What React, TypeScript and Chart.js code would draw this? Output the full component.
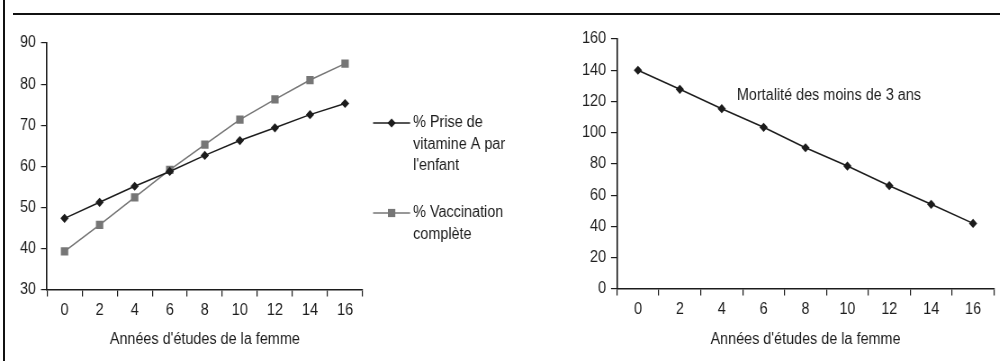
import { useEffect, useRef } from "react";
import { Chart, registerables } from "chart.js";

Chart.register(...registerables);

// Years of schooling of the woman (category axis)
const years = ["0", "2", "4", "6", "8", "10", "12", "14", "16"];

// Left panel: child vitamin A intake and full vaccination (%)
const vitaminA = [47.4, 51.3, 55.2, 58.8, 62.7, 66.3, 69.4, 72.6, 75.3];
const vaccination = [39.4, 45.8, 52.5, 59.2, 65.3, 71.4, 76.3, 81.0, 85.0];

// Right panel: under-3 mortality
const mortality = [140, 127.8, 115.4, 103.5, 90.4, 78.7, 66.1, 54.2, 42.0];

// Text
const xTitle = "Années d'études de la femme";
const legendVitA = ["% Prise de", "vitamine A par", "l'enfant"];
const legendVacc = ["% Vaccination", "complète"];
const mortalityNote = "Mortalité des moins de 3 ans";

// Axis ranges
const leftY = { min: 30, max: 90, step: 10 };
const rightY = { min: 0, max: 160, step: 20 };

// The panels use a condensed look: each canvas is drawn wider and squeezed horizontally.
const SQUEEZE = 0.9;
const FONT = "'Liberation Sans', Arial, Helvetica, sans-serif";
const FONT_SIZE = 16;
const INK = "#1c1c1c";
const GREY = "#767676";

Chart.defaults.font.family = FONT;
Chart.defaults.font.size = FONT_SIZE;
Chart.defaults.color = INK;

const px = (v: number) => v / SQUEEZE;

function drawDiamond(ctx: CanvasRenderingContext2D, x: number, y: number, r: number, color: string) {
  ctx.beginPath();
  ctx.moveTo(x, y - r);
  ctx.lineTo(x + r, y);
  ctx.lineTo(x, y + r);
  ctx.lineTo(x - r, y);
  ctx.closePath();
  ctx.fillStyle = color;
  ctx.fill();
}

function drawSquare(ctx: CanvasRenderingContext2D, x: number, y: number, half: number, color: string) {
  ctx.fillStyle = color;
  ctx.fillRect(x - half, y - half, half * 2, half * 2);
}

// Legend placed to the right of the left plot, with wrapped labels
const sideLegend = {
  id: "sideLegend",
  afterDraw(chart: any) {
    const { ctx, chartArea } = chart;
    const x0 = chartArea.right + px(10.5);
    const x1 = x0 + px(37);
    const tx = x1 + px(3);
    const lineGap = 21.5;
    const entries = [
      { lines: legendVitA, y: chartArea.top + 80, color: INK, kind: "diamond" },
      { lines: legendVacc, y: chartArea.top + 170, color: GREY, kind: "square" },
    ];
    ctx.save();
    for (const e of entries) {
      ctx.strokeStyle = e.color;
      ctx.lineWidth = 1.5;
      ctx.beginPath();
      ctx.moveTo(x0, e.y);
      ctx.lineTo(x1, e.y);
      ctx.stroke();
      const mx = (x0 + x1) / 2;
      if (e.kind === "diamond") drawDiamond(ctx, mx, e.y, 4.6, e.color);
      else drawSquare(ctx, mx, e.y, 4.1, e.color);
      ctx.fillStyle = INK;
      ctx.font = `${FONT_SIZE}px ${FONT}`;
      ctx.textAlign = "left";
      ctx.textBaseline = "middle";
      e.lines.forEach((t, i) => ctx.fillText(t, tx, e.y + i * lineGap));
    }
    ctx.restore();
  },
};

// Text note inside the right plot
const noteLabel = {
  id: "noteLabel",
  afterDraw(chart: any) {
    const { ctx, chartArea, scales } = chart;
    const x = chartArea.left + 0.318 * (chartArea.right - chartArea.left);
    const y = scales.y.getPixelForValue(124);
    ctx.save();
    ctx.fillStyle = INK;
    ctx.font = `${FONT_SIZE}px ${FONT}`;
    ctx.textAlign = "left";
    ctx.textBaseline = "middle";
    ctx.fillText(mortalityNote, x, y);
    ctx.restore();
  },
};

function axes(yRange: { min: number; max: number; step: number }, yWidth: number, xHeight: number) {
  const grid = {
    display: true,
    drawOnChartArea: false,
    drawTicks: true,
    tickLength: 6,
    color: INK,
    lineWidth: 1.2,
  };
  return {
    x: {
      type: "category" as const,
      offset: true,
      grid: { ...grid, tickLength: 6.5, offset: true },
      border: { display: true, color: INK, width: 1.5 },
      ticks: { padding: 4, color: INK, maxRotation: 0, autoSkip: false },
      title: { display: true, text: xTitle, color: INK, padding: { top: 0, bottom: 12 } },
      afterFit: (s: any) => {
        s.height = xHeight;
      },
    },
    y: {
      min: yRange.min,
      max: yRange.max,
      grid: { ...grid, tickLength: px(6) },
      border: { display: true, color: INK, width: 1.6 },
      ticks: { stepSize: yRange.step, padding: px(5), color: INK },
      afterFit: (s: any) => {
        s.width = yWidth;
      },
    },
  };
}

const pointCommon = {
  borderWidth: 1.5,
  pointBorderWidth: 0,
  tension: 0,
};

function Panel(props: { left: number; width: number; make: (el: HTMLCanvasElement) => Chart }) {
  const ref = useRef<HTMLCanvasElement>(null);
  const logicalWidth = Math.round(px(props.width));
  useEffect(() => {
    if (!ref.current) return;
    const chart = props.make(ref.current);
    return () => chart.destroy();
  }, []);
  return (
    <div
      style={{
        position: "absolute",
        left: props.left,
        top: 0,
        width: logicalWidth,
        height: 361,
        transform: `scaleX(${SQUEEZE})`,
        transformOrigin: "0 0",
      }}
    >
      <canvas ref={ref} width={logicalWidth} height={361} style={{ display: "block" }} />
    </div>
  );
}

function makeLeft(el: HTMLCanvasElement) {
  const w = Math.round(px(540));
  return new Chart(el, {
    type: "line",
    data: {
      labels: years,
      datasets: [
        {
          label: legendVitA.join(" "),
          data: vitaminA,
          borderColor: INK,
          backgroundColor: INK,
          pointStyle: "rectRot",
          pointRadius: 4.6,
          ...pointCommon,
        },
        {
          label: legendVacc.join(" "),
          data: vaccination,
          borderColor: GREY,
          backgroundColor: GREY,
          pointStyle: "rect",
          pointRadius: 5.8,
          ...pointCommon,
        },
      ],
    },
    options: {
      responsive: false,
      animation: false,
      layout: { padding: { left: 0, top: 43, right: w - px(362.6), bottom: 0 } },
      plugins: { legend: { display: false }, tooltip: { enabled: false } },
      scales: axes(leftY, px(47), 71) as any,
    },
    plugins: [sideLegend],
  });
}

function makeRight(el: HTMLCanvasElement) {
  const w = Math.round(px(460));
  return new Chart(el, {
    type: "line",
    data: {
      labels: years,
      datasets: [
        {
          label: mortalityNote,
          data: mortality,
          borderColor: INK,
          backgroundColor: INK,
          pointStyle: "rectRot",
          pointRadius: 4.6,
          ...pointCommon,
        },
      ],
    },
    options: {
      responsive: false,
      animation: false,
      layout: { padding: { left: 0, top: 39, right: w - px(454), bottom: 0 } },
      plugins: { legend: { display: false }, tooltip: { enabled: false } },
      scales: axes(rightY, px(77), 72) as any,
    },
    plugins: [noteLabel],
  });
}

export default function App() {
  return (
    <div
      style={{
        position: "fixed",
        left: 0,
        top: 0,
        width: 1000,
        height: 361,
        background: "#fff",
        overflow: "hidden",
      }}
    >
      <Panel left={0} width={540} make={makeLeft} />
      <Panel left={540} width={460} make={makeRight} />
      {/* frame rules */}
      <div style={{ position: "absolute", left: 3, top: 0, width: 2, height: 361, background: "#111" }} />
      <div style={{ position: "absolute", left: 13, top: 13, width: 987, height: 2, background: "#111" }} />
    </div>
  );
}
